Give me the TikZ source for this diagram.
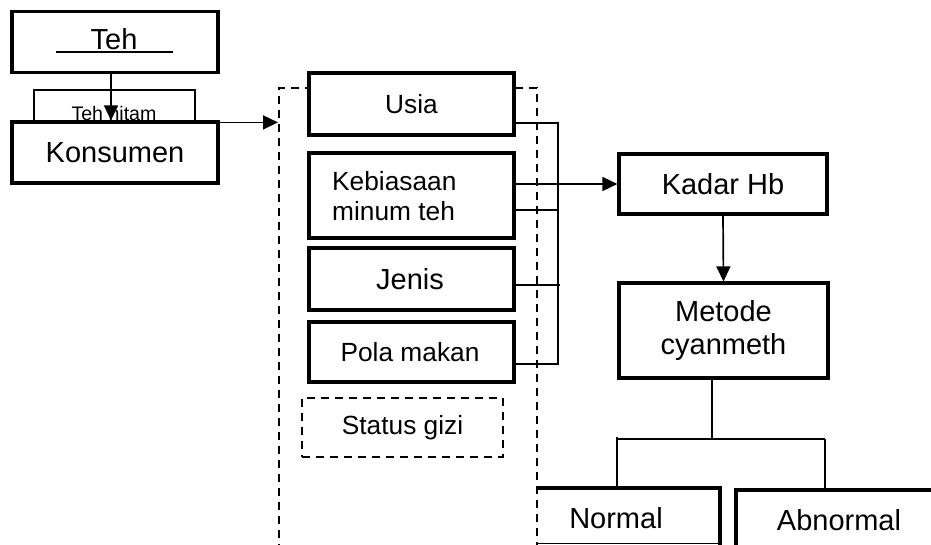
\documentclass[tikz,border=0pt]{standalone}
\usepackage{fontspec}
\setmainfont{Liberation Sans}
\usetikzlibrary{arrows.meta}
\tikzset{
  box/.style={draw, line width=3.2pt, fill=white, inner sep=0pt, align=center},
  thinbox/.style={draw, line width=2.2pt, fill=white, inner sep=0pt},
  dbox/.style={draw, line width=2pt, dash pattern=on 8pt off 6pt, inner sep=0pt},
  conn/.style={line width=1.7pt},
  arr/.style={line width=1.7pt, -{Triangle[length=15pt,width=14pt]}},
  big/.style={font=\fontsize{29}{33}\selectfont},
  mid/.style={font=\fontsize{26.3}{30}\selectfont},
  small/.style={font=\fontsize{19.6}{23}\selectfont},
}
\begin{document}
\begin{tikzpicture}[x=1pt,y=-1pt]
\useasboundingbox (0,0) rectangle (931,544);
\clip (0,0) rectangle (931,544);
% big dashed frame
\node[dbox, minimum width=258, minimum height=512] (frame) at (408,344) {};
% top-left
\node[box, minimum width=206, minimum height=61] (teh) at (115,42) {};
\node[big, anchor=base, inner sep=0pt] (tehtext) at (114,49) {Teh};
\draw[line width=2pt] (56,52) -- (173,52);
\node[thinbox, minimum width=161, minimum height=32] (tehhitambox) at (114.5,106) {};
\node[small, anchor=base, inner sep=0pt] (tehhitam) at (114,120) {Teh hitam};
\node[box, big, minimum width=206, minimum height=61] (kons) at (115,152.5) {Konsumen};
% factor boxes
\node[box, mid, minimum width=205, minimum height=62] (usia) at (411.5,104) {Usia};
\node[box, minimum width=205, minimum height=85] (keb) at (411.5,195.5) {};
\node[mid, anchor=base west, align=left, inner sep=0pt] (kebtext) at (332,220) {Kebiasaan\\minum teh};
\node[box, big, minimum width=205, minimum height=62] (jenis) at (411.5,279) {\hspace*{-3pt}Jenis};
\node[box, mid, minimum width=205, minimum height=60] (pola) at (411.5,352) {\hspace*{-3pt}Pola makan};
\node[dbox, mid, line width=2.2pt, minimum width=201, minimum height=59] (gizi) at (402.5,427.5) {Status gizi};
% right side
\node[box, big, minimum width=208, minimum height=60] (kadar) at (723,184) {Kadar Hb};
\node[box, big, minimum width=209, minimum height=95] (metode) at (723.5,330.5) {Metode\\cyanmeth};
% Normal / Abnormal (partly outside the page)
\coordinate (nTL) at (537,488);
\coordinate (nTR) at (720,488);
\coordinate (nBL) at (537,543);
\coordinate (nBR) at (720,543);
\draw[line width=3.2pt] (nTL) -- (nTR) -- ([yshift=-10pt]nBR);
\draw[line width=1pt] (nBL) -- (nBR);
\node[big, inner sep=0pt] (normal) at (616,518) {Normal};
\coordinate (aTL) at (736,490);
\draw[line width=3.2pt] (960,490) -- (aTL) -- (736,560);
\node[big, inner sep=0pt] (abnormal) at (839,520) {Abnormal};
% connectors
\draw[arr] ([xshift=-4pt]teh.south) -- ([xshift=-4pt]kons.north);
\draw[arr] ([yshift=-2pt]kons.north east) -- ([yshift=-2pt]kons.north east -| frame.west);
\coordinate (b1) at (558,123);
\coordinate (b2) at (558,210);
\coordinate (b3) at (560,285);
\coordinate (b4) at (558,364);
\draw[conn] (usia.east |- b1) -- (b1) -- (b4) -- (pola.east |- b4);
\draw[conn] (keb.east |- b2) -- (b2);
\draw[conn] (jenis.east |- b3) -- (b3);
\draw[arr] (keb.east |- kadar.west) -- (kadar.west);
\draw[arr] (kadar.south) -- (metode.north);
\coordinate (split) at (712,439);
\draw[conn] (metode.south -| split) -- (split);
\draw[conn] (617,439) -- (825,439);
\draw[conn] (617,437) -- (617,488);
\draw[conn] (825,439) -- (825,490);
\end{tikzpicture}
\end{document}
